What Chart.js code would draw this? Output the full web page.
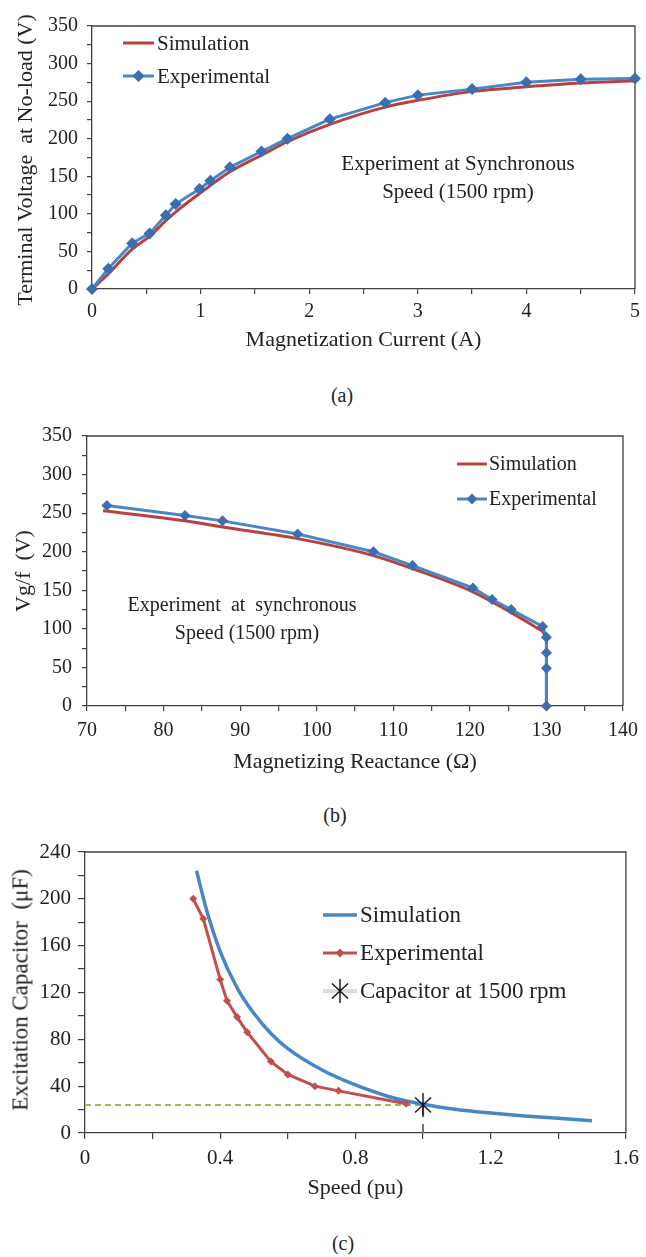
<!DOCTYPE html>
<html>
<head>
<meta charset="utf-8">
<script src="https://cdn.jsdelivr.net/npm/chart.js@4.4.1/dist/chart.umd.min.js"></script>
<style>
  html, body { margin:0; padding:0; background:#fff; }
  body { width:646px; height:1257px; position:relative; overflow:hidden; font-family:'Liberation Serif', 'Times New Roman', serif; color:#222; }
  canvas { position:absolute; left:0; }
  .t { position:absolute; white-space:pre; color:#222; font-family:'Liberation Serif', 'Times New Roman', serif; line-height:1; }
  .c { transform:translate(-50%,-50%); }
  .r { transform:translate(-50%,-50%) rotate(-90deg); }
</style>
</head>
<body>
<canvas id="ca" width="646" height="360" style="top:0px"></canvas>
<canvas id="cb" width="646" height="370" style="top:410px"></canvas>
<canvas id="cc" width="646" height="380" style="top:830px"></canvas>

<div class="t r" style="left:25px; top:160px; font-size:22px;">Terminal Voltage  at No-load (V)</div>
<div class="t c" style="left:458px; top:163px; font-size:21px;">Experiment at Synchronous</div>
<div class="t c" style="left:458px; top:191px; font-size:21px;">Speed (1500 rpm)</div>
<div class="t c" style="left:342px; top:395px; font-size:20px;">(a)</div>

<div class="t r" style="left:23px; top:571px; font-size:22px;">Vg/f  (V)</div>
<div class="t c" style="left:242px; top:604px; font-size:20px;">Experiment  at  synchronous</div>
<div class="t c" style="left:247px; top:632px; font-size:20px;">Speed (1500 rpm)</div>
<div class="t c" style="left:335px; top:815px; font-size:20px;">(b)</div>

<div class="t r" style="left:20px; top:990px; font-size:23px;">Excitation Capacitor  (μF)</div>
<div class="t c" style="left:343px; top:1243px; font-size:20px;">(c)</div>

<script>
// ---------------- DATA ----------------
// (a) no-load magnetization
const aExpX = [0, 0.15, 0.37, 0.53, 0.68, 0.77, 0.99, 1.09, 1.27, 1.56, 1.80, 2.19, 2.70, 3.0, 3.5, 4.0, 4.5, 5.0];
const aExpY = [0, 27, 61, 74, 98, 113, 133, 144, 162, 183, 200, 226, 248, 258, 266, 275, 279, 280];
const aSimX = [0, 0.15, 0.37, 0.53, 0.68, 0.80, 1.0, 1.27, 1.56, 1.80, 2.19, 2.70, 3.0, 3.5, 4.0, 4.5, 5.0];
const aSimY = [0, 20, 53, 70, 91, 106, 128, 156, 178, 196, 219, 242, 251, 263, 269, 274, 277];

// (b) Vg/f vs magnetizing reactance
const bExpX = [72.6, 82.8, 87.7, 97.5, 107.4, 112.5, 120.4, 122.9, 125.4, 129.5, 130, 130, 130, 130];
const bExpY = [260, 247, 240, 223, 200, 182, 153, 138, 125, 103, 89, 69, 49, 0];
const bSimX = [72.1, 82.8, 87.7, 97.5, 107.4, 112.5, 120.4, 125.4, 129.5];
const bSimY = [253, 240, 232, 217, 195, 178, 148, 121, 97];
const bSimDropX = [129.5, 130, 130];
const bSimDropY = [97, 88, 0];

// (c) excitation capacitor vs speed
const cSimX = [0.33, 0.36, 0.40, 0.45, 0.50, 0.55, 0.60, 0.70, 0.80, 0.90, 1.00, 1.10, 1.20, 1.30, 1.40, 1.50];
const cSimY = [224, 190, 155, 124, 102, 85, 72, 54, 41, 31, 24.5, 20, 17, 14.5, 12.5, 10.5];
const cExpX = [0.32, 0.35, 0.40, 0.42, 0.45, 0.48, 0.55, 0.60, 0.68, 0.75, 0.95];
const cExpY = [200, 183, 131, 113, 99, 86, 61, 50, 40, 36, 25];
const cCapX = [1.0];
const cCapY = [24];
const cHLineX = [0, 1.0];
const cHLineY = [24, 24];
const cVLineX = [1.0, 1.0];
const cVLineY = [0, 24];

// tick settings (values)
const aXTicks = { min: 0, max: 5, step: 0.5, label: 1 };
const aYTicks = { min: 0, max: 350, step: 25, label: 50 };
const bXTicks = { min: 70, max: 140, step: 5, label: 10 };
const bYTicks = { min: 0, max: 350, step: 25, label: 50 };
const cXTicks = { min: 0, max: 1.6, step: 0.2, label: 0.4 };
const cYTicks = { min: 0, max: 240, step: 20, label: 40 };

// ---------------- HELPERS ----------------
const pts = (xs, ys) => xs.map((x, i) => ({ x: x, y: ys[i] }));
const FONT = "'Liberation Serif', 'Times New Roman', serif";
const TXT = '#222';
const AX = '#404040';
Chart.defaults.font.family = FONT;
Chart.defaults.color = TXT;

// star (asterisk) marker
function makeStar(color, w, h, lw) {
  const c = document.createElement('canvas');
  c.width = w; c.height = h;
  const g = c.getContext('2d');
  g.strokeStyle = color; g.lineWidth = lw; g.lineCap = 'butt';
  const cx = w / 2, cy = h / 2;
  g.beginPath();
  g.moveTo(cx, 0); g.lineTo(cx, h);
  g.moveTo(1, cy - (w / 2 - 1) * 0.95); g.lineTo(w - 1, cy + (w / 2 - 1) * 0.95);
  g.moveTo(w - 1, cy - (w / 2 - 1) * 0.95); g.lineTo(1, cy + (w / 2 - 1) * 0.95);
  g.stroke();
  return c;
}
const starImg = makeStar('#111', 18, 24, 1.4);

function labelCb(t) {
  return function (v) {
    const k = v / t.label;
    if (Math.abs(k - Math.round(k)) < 1e-6) return String(Number(v.toFixed(2)));
    return '';
  };
}

const boxPlugin = {
  id: 'plotBox',
  beforeDatasetsDraw(chart) {
    const { left, top, right, bottom } = chart.chartArea;
    const ctx = chart.ctx;
    ctx.save();
    ctx.strokeStyle = AX; ctx.lineWidth = 1.3;
    ctx.beginPath();
    ctx.moveTo(left, top); ctx.lineTo(right, top); ctx.lineTo(right, bottom);
    ctx.stroke();
    ctx.restore();
  }
};

const legendPlugin = {
  id: 'customLegend',
  afterDraw(chart, args, o) {
    const ctx = chart.ctx;
    ctx.save();
    o.items.forEach(it => {
      const y = it.y - o.top;
      ctx.strokeStyle = it.line; ctx.lineWidth = it.lw; ctx.setLineDash([]);
      ctx.beginPath(); ctx.moveTo(o.x1, y); ctx.lineTo(o.x2, y); ctx.stroke();
      const mx = (o.x1 + o.x2) / 2;
      if (it.marker === 'diamond') {
        const r = it.r;
        ctx.fillStyle = it.mcolor;
        ctx.beginPath();
        ctx.moveTo(mx, y - r); ctx.lineTo(mx + r, y); ctx.lineTo(mx, y + r); ctx.lineTo(mx - r, y);
        ctx.closePath(); ctx.fill();
      } else if (it.marker === 'star') {
        ctx.drawImage(starImg, mx - starImg.width / 2, y - starImg.height / 2);
      }
      ctx.fillStyle = TXT;
      ctx.font = o.size + 'px ' + FONT;
      ctx.textBaseline = 'middle';
      ctx.textAlign = 'left';
      ctx.fillText(it.text, o.tx, y + 1);
    });
    ctx.restore();
  }
};

function axis(t, extra) {
  return Object.assign({
    type: 'linear', min: t.min, max: t.max,
    ticks: { stepSize: t.step, autoSkip: false, maxRotation: 0, includeBounds: true,
             callback: labelCb(t), color: TXT, font: { size: extra.fs }, padding: extra.pad },
    grid: { display: true, drawOnChartArea: false, drawTicks: true, tickLength: extra.tl, color: AX, lineWidth: 1.2 },
    border: { display: true, color: AX, width: 1.3 }
  }, extra.more || {});
}

function build(id, L, R, T, H, PT, PB, xTitle, xTitleY, xt, yt, fs, tls, pads, datasets, legend) {
  const W = 646;
  const tfs = 22, lh = tfs * 1.2;
  const xBoxH = T + H - PB;
  const titlePadBottom = (T + H) - xTitleY - lh / 2;
  const xs = axis(xt, { fs: fs, tl: tls[0], pad: pads[0] });
  xs.title = { display: true, text: xTitle, color: TXT, font: { size: tfs, lineHeight: 1.2 }, padding: { top: 0, bottom: titlePadBottom } };
  xs.afterFit = (s) => { s.height = xBoxH; };
  const ys = axis(yt, { fs: fs, tl: tls[1], pad: pads[1] });
  ys.afterFit = (s) => { s.width = L; };
  return new Chart(document.getElementById(id), {
    type: 'scatter',
    data: { datasets: datasets },
    options: {
      responsive: false, animation: false, devicePixelRatio: 1,
      layout: { padding: { left: 0, right: W - R, top: PT - T, bottom: 0 } },
      plugins: { legend: { display: false }, tooltip: { enabled: false }, customLegend: legend },
      scales: { x: xs, y: ys }
    },
    plugins: [boxPlugin, legendPlugin]
  });
}

// ---------------- CHART (a) ----------------
const BLUE = '#4A86C8', BLUEM = '#3A6EAE', RED = '#B8413E';
build('ca', 92, 638, 0, 360, 26, 289, 'Magnetization Current (A)', 340, aXTicks, aYTicks, 20, [5, 5], [6, 9], [
  { label: 'Experimental', data: pts(aExpX, aExpY), showLine: true, borderColor: BLUE, borderWidth: 3,
    pointStyle: 'rectRot', pointRadius: 6, pointBackgroundColor: BLUEM, pointBorderWidth: 0, tension: 0, clip: false },
  { label: 'Simulation', data: pts(aSimX, aSimY), showLine: true, borderColor: RED, borderWidth: 3,
    pointRadius: 0, tension: 0.4, cubicInterpolationMode: 'monotone', clip: false }
], { top: 0, x1: 123, x2: 154, tx: 157, size: 21, items: [
  { text: 'Simulation', y: 43, line: RED, lw: 3 },
  { text: 'Experimental', y: 76, line: BLUE, lw: 3, marker: 'diamond', r: 6, mcolor: BLUEM }
] });

// ---------------- CHART (b) ----------------
build('cb', 87, 632, 410, 370, 436, 706, 'Magnetizing Reactance (Ω)', 762, bXTicks, bYTicks, 20, [5, 5], [8, 10], [
  { label: 'Experimental', data: pts(bExpX, bExpY), showLine: true, borderColor: BLUE, borderWidth: 3,
    pointStyle: 'rectRot', pointRadius: 5.5, pointBackgroundColor: BLUEM, pointBorderWidth: 0, tension: 0, clip: false },
  { label: 'Simulation', data: pts(bSimX, bSimY), showLine: true, borderColor: RED, borderWidth: 3,
    pointRadius: 0, tension: 0.4, cubicInterpolationMode: 'monotone', clip: false },
  { label: 'Simulation drop', data: pts(bSimDropX, bSimDropY), showLine: true, borderColor: RED, borderWidth: 3,
    pointRadius: 0, tension: 0, clip: false }
], { top: 410, x1: 457, x2: 487, tx: 489, size: 20, items: [
  { text: 'Simulation', y: 464, line: RED, lw: 3 },
  { text: 'Experimental', y: 499, line: BLUE, lw: 3, marker: 'diamond', r: 5.5, mcolor: BLUEM }
] });

// ---------------- CHART (c) ----------------
const CBLUE = '#4A86C6', CRED = '#C0504D', CGREEN = '#9BBB59', CPURP = '#8064A2';
build('cc', 85, 633, 830, 380, 852, 1133, 'Speed (pu)', 1188, cXTicks, cYTicks, 21, [6, 7], [7, 7], [
  { label: 'Capacitor at 1500 rpm', data: pts(cCapX, cCapY), showLine: false,
    pointStyle: starImg, pointRadius: 9, clip: false },
  { label: 'Experimental', data: pts(cExpX, cExpY), showLine: true, borderColor: CRED, borderWidth: 3,
    pointStyle: 'rectRot', pointRadius: 4, pointBackgroundColor: CRED, pointBorderWidth: 0, tension: 0, clip: false },
  { label: 'Simulation', data: pts(cSimX, cSimY), showLine: true, borderColor: CBLUE, borderWidth: 3.5,
    pointRadius: 0, tension: 0.4, cubicInterpolationMode: 'monotone', clip: false },
  { label: 'hline', data: pts(cHLineX, cHLineY), showLine: true, borderColor: CGREEN, borderWidth: 2,
    borderDash: [6, 4], pointRadius: 0, tension: 0, clip: false },
  { label: 'vline', data: pts(cVLineX, cVLineY), showLine: true, borderColor: CPURP, borderWidth: 2,
    borderDash: [9, 9], pointRadius: 0, tension: 0, clip: false }
], { top: 830, x1: 323, x2: 357, tx: 360, size: 23, items: [
  { text: 'Simulation', y: 915, line: CBLUE, lw: 3.5 },
  { text: 'Experimental', y: 953, line: CRED, lw: 3, marker: 'diamond', r: 4.5, mcolor: CRED },
  { text: 'Capacitor at 1500 rpm', y: 991, line: '#DCD8EA', lw: 4, marker: 'star' }
] });
</script>
</body>
</html>
